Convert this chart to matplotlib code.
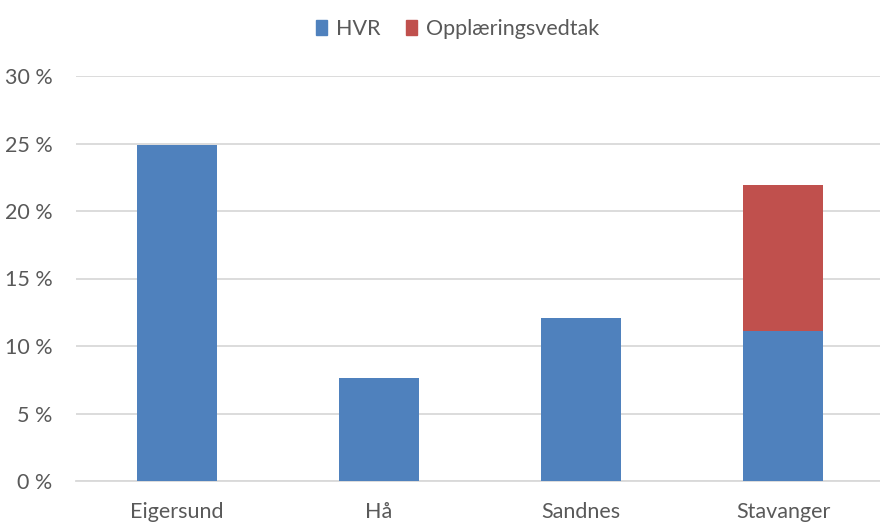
import matplotlib
matplotlib.use("Agg")
import matplotlib.pyplot as plt
from matplotlib.patches import Patch

plt.rcParams['font.family'] = ['Lato', 'DejaVu Sans']

kommuner = ["Eigersund", "Hå", "Sandnes", "Stavanger"]
hvr = [24.9, 7.6, 12.1, 11.1]
opplaering = [0, 0, 0, 10.8]
yticks = [0, 5, 10, 15, 20, 25, 30]

blue = "#4F81BD"
red = "#C0504D"
txt = "#595959"

fig = plt.figure(figsize=(8.8, 5.22), dpi=100)
ax = fig.add_axes([76/880, 1 - 481/522, 1 - 76/880, (481 - 76)/522])

x = range(len(kommuner))
ax.bar(x, hvr, width=0.4, color=blue, zorder=3)
ax.bar(x, opplaering, width=0.4, bottom=hvr, color=red, zorder=3)

ax.set_ylim(0, 30)
ax.set_xlim(-0.5, 3.48)
ax.set_yticks(yticks)
ax.set_yticklabels([f"{t} %" for t in yticks])
ax.set_xticks(list(x))
ax.set_xticklabels(kommuner)
ax.yaxis.grid(True, color="#D9D9D9", linewidth=1.3, zorder=0)
for s in ["top", "right", "left"]:
    ax.spines[s].set_visible(False)
ax.spines["bottom"].set_color("#D9D9D9")
ax.spines["bottom"].set_linewidth(1.3)
ax.tick_params(length=0, labelsize=15.5, colors=txt)
ax.tick_params(axis='x', pad=15)
ax.tick_params(axis='y', pad=17)

handles = [Patch(color=blue, label="HVR"), Patch(color=red, label="Opplæringsvedtak")]
fig.legend(handles=handles, loc="upper center", bbox_to_anchor=(0.52, 1.0), ncol=2,
           frameon=False, fontsize=15.5, labelcolor=txt, handlelength=0.5, handleheight=0.7,
           handletextpad=0.4, columnspacing=1.2)

fig.savefig("out.png", dpi=100)
